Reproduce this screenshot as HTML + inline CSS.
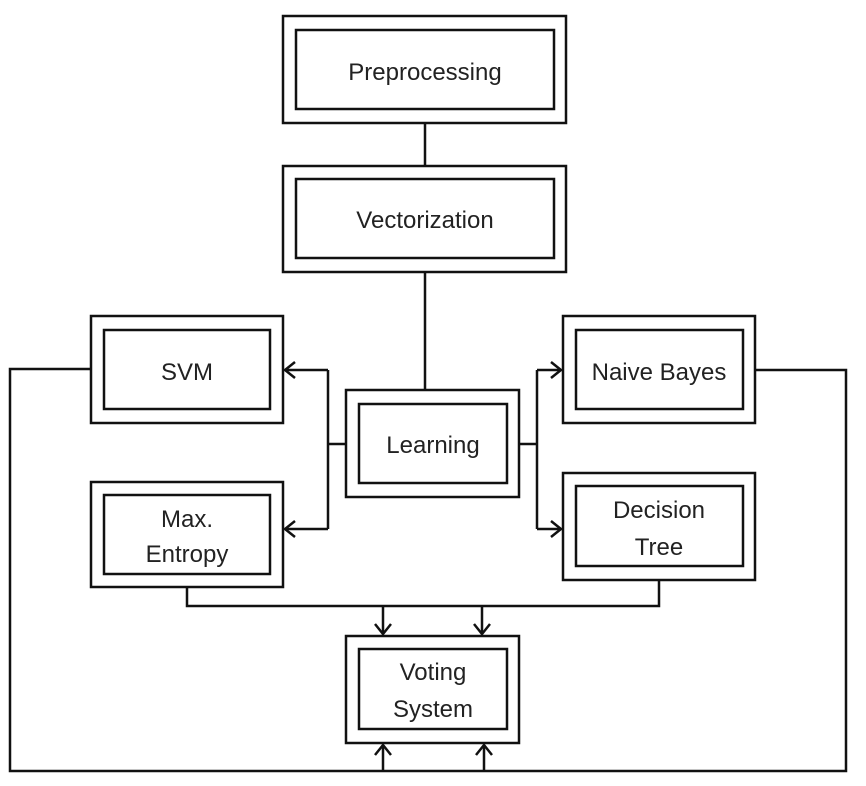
<!DOCTYPE html>
<html><head><style>body{margin:0;background:#fff}svg{display:block}text{font-family:"Liberation Sans",sans-serif;font-size:24px;fill:#222;text-anchor:middle}</style></head>
<body>
<svg width="866" height="786" viewBox="0 0 866 786" xmlns="http://www.w3.org/2000/svg">
<g fill="none" stroke="#111" stroke-width="2.5">
<rect x="283" y="16" width="283" height="107"/><rect x="296" y="30" width="258" height="79"/>
<rect x="283" y="166" width="283" height="106"/><rect x="296" y="179" width="258" height="79"/>
<rect x="91" y="316" width="192" height="107"/><rect x="104" y="330" width="166" height="79"/>
<rect x="91" y="482" width="192" height="105"/><rect x="104" y="495" width="166" height="79"/>
<rect x="346" y="390" width="173" height="107"/><rect x="359" y="404" width="148" height="79"/>
<rect x="563" y="316" width="192" height="107"/><rect x="576" y="330" width="167" height="79"/>
<rect x="563" y="473" width="192" height="107"/><rect x="576" y="486" width="167" height="80"/>
<rect x="346" y="636" width="173" height="107"/><rect x="359" y="649" width="148" height="80"/>
<path d="M425 123V166M425 272V390"/>
<path d="M346 444H328M328 370V529M328 370H285M328 529H285"/>
<path d="M519 444H537M537 370V529M537 370H561M537 529H561"/>
<path d="M91 369H10V771H846V370H755"/>
<path d="M187 587V606H659V580"/>
<path d="M383 606V634M482 606V634"/>
<path d="M383 771V745M484 771V745"/>
<path d="M295 362L285 370L295 378M295 521L285 529L295 537"/>
<path d="M551 362L561 370L551 378M551 521L561 529L551 537"/>
<path d="M375 624L383 634L391 624M474 624L482 634L490 624"/>
<path d="M375 755L383 745L391 755M476 755L484 745L492 755"/>
</g>
<text x="425" y="80">Preprocessing</text>
<text x="425" y="228">Vectorization</text>
<text x="187" y="380">SVM</text>
<text x="187" y="527">Max.</text>
<text x="187" y="562">Entropy</text>
<text x="433" y="453">Learning</text>
<text x="659" y="380">Naive Bayes</text>
<text x="659" y="518">Decision</text>
<text x="659" y="555">Tree</text>
<text x="433" y="680">Voting</text>
<text x="433" y="717">System</text>
</svg>
</body></html>
